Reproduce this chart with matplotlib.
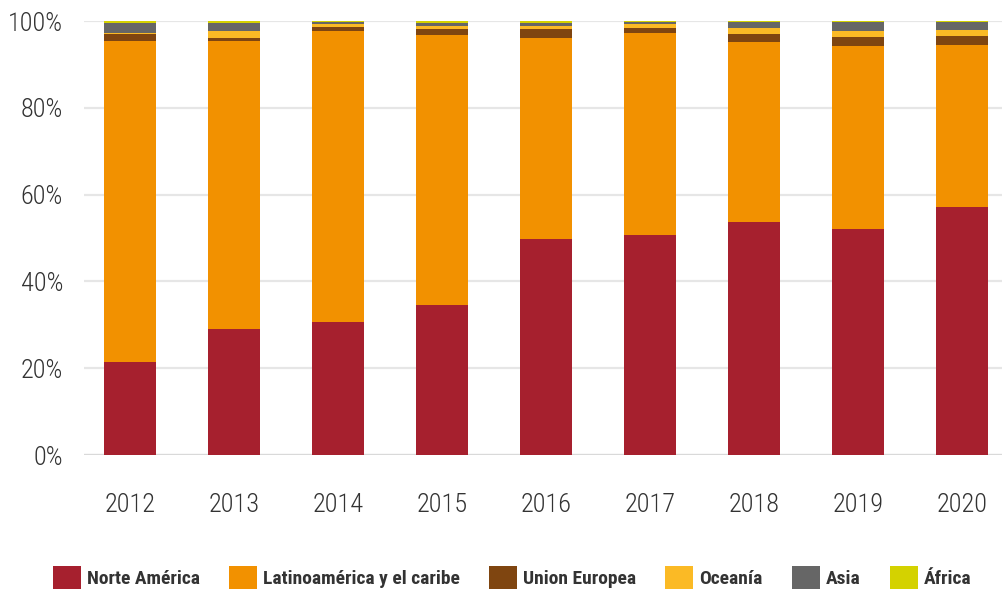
import matplotlib
matplotlib.use("Agg")
import matplotlib.pyplot as plt
from matplotlib.patches import Patch
import numpy as np

plt.rcParams['font.family'] = ['Roboto Condensed', 'Liberation Sans Narrow', 'Roboto', 'DejaVu Sans']

years = ["2012", "2013", "2014", "2015", "2016", "2017", "2018", "2019", "2020"]
regions = ["Norte América", "Latinoamérica y el caribe", "Union Europea",
           "Oceanía", "Asia", "África"]

norte_america = [21.4, 29.0, 30.6, 34.5, 49.7, 50.6, 53.6, 52.0, 57.1]
latinoamerica = [74.1, 66.3, 67.2, 62.3, 46.4, 46.6, 41.5, 42.3, 37.3]
union_europea = [1.4, 0.7, 0.9, 1.4, 2.1, 1.2, 1.8, 2.1, 2.1]
oceania = [0.3, 1.8, 0.7, 0.7, 0.7, 0.9, 1.4, 1.2, 1.4]
asia = [2.4, 1.8, 0.4, 0.7, 0.7, 0.5, 1.4, 2.1, 1.8]
africa = [0.4, 0.4, 0.2, 0.4, 0.4, 0.2, 0.3, 0.3, 0.3]

colors = ["#A6202E", "#F29100", "#7F4510", "#FBBA25", "#666666", "#D4D200"]
series = [norte_america, latinoamerica, union_europea, oceania, asia, africa]

fig = plt.figure(figsize=(10.02, 5.92), dpi=100)
ax = fig.add_axes([0.0838, 0.2314, 0.928, 0.7331])

x = np.arange(len(years))
bottom = np.zeros(len(years))
for vals, col, name in zip(series, colors, regions):
    vals = np.array(vals)
    ax.bar(x, vals, width=0.5, bottom=bottom, color=col, label=name, zorder=3)
    bottom += vals

ax.set_xlim(-0.442, 8.5)
ax.set_ylim(0, 100)
ax.set_yticks([0, 20, 40, 60, 80, 100])
ax.set_yticklabels([f"{v}%" for v in [0, 20, 40, 60, 80, 100]], fontweight="light")
ax.set_xticks(x)
ax.set_xticklabels(years, fontweight="light")
ax.yaxis.grid(True, color="#E6E6E6", linewidth=1.6, zorder=0)
ax.set_axisbelow(True)
for s in ax.spines.values():
    s.set_visible(False)
ax.axhline(0, color="#D9D9D9", linewidth=1.6, zorder=2)
ax.tick_params(axis="both", length=0, labelsize=19, colors="#333333")
ax.tick_params(axis="y", pad=15)
ax.tick_params(axis="x", pad=27)

handles = [Patch(facecolor=c, label=n) for c, n in zip(colors, regions)]
leg = fig.legend(handles=handles, loc="center", bbox_to_anchor=(0.511, 0.024),
                 ncol=6, frameon=False, handlelength=1.45, handleheight=1.45,
                 handletextpad=0.3, columnspacing=1.5,
                 prop={"size": 14, "weight": "bold"})
for t in leg.get_texts():
    t.set_color("#333333")

fig.savefig("out.png", dpi=100)
